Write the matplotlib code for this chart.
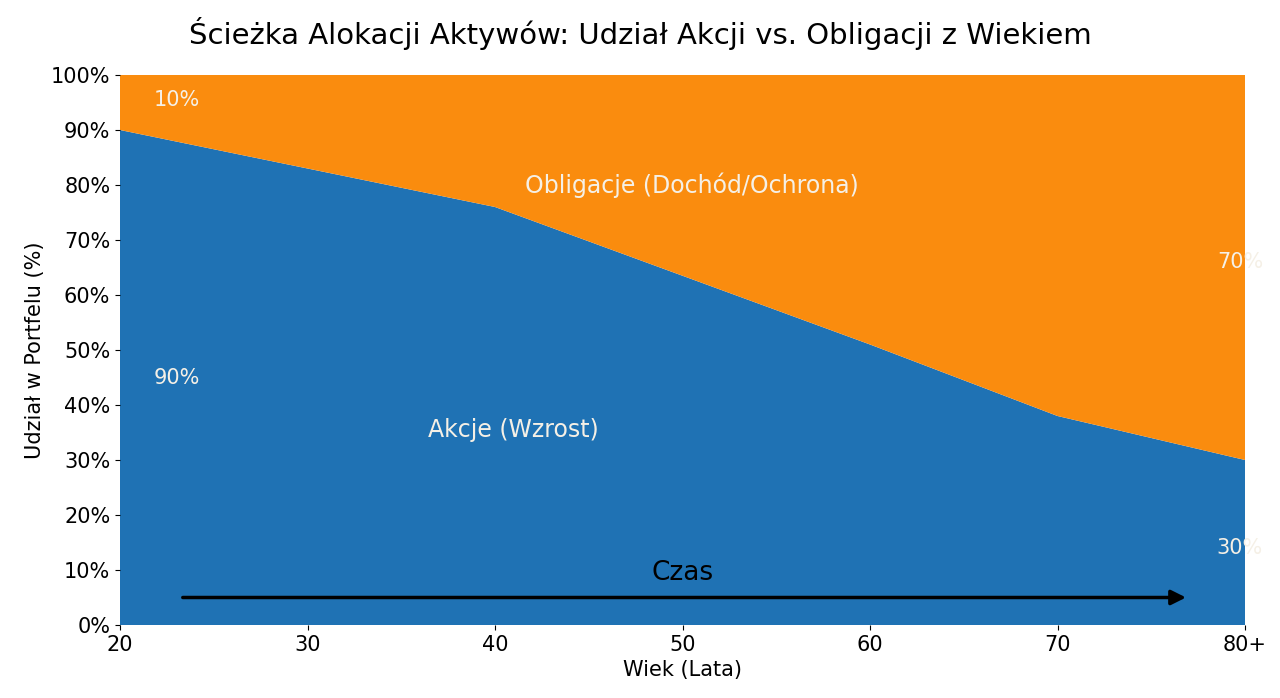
import matplotlib
matplotlib.use("Agg")
import matplotlib.pyplot as plt

ages = [20, 30, 40, 50, 60, 70, 80]
stocks = [90, 83, 76, 63.5, 51, 38, 30]
bonds = [100 - s for s in stocks]
xtick_labels = ["20", "30", "40", "50", "60", "70", "80+"]

blue = "#1f72b4"
orange = "#fa8c0e"

fig = plt.figure(figsize=(12.8, 6.98), dpi=100)
ax = fig.add_axes([120/1280, 1-625/698, 1125/1280, 550/698])
ax.stackplot(ages, stocks, bonds, colors=[blue, orange], linewidth=0)
ax.set_xlim(20, 80)
ax.set_ylim(0, 100)
ax.set_xticks(ages)
ax.set_xticklabels(xtick_labels, fontsize=15)
ax.set_yticks(range(0, 101, 10))
ax.set_yticklabels([f"{v}%" for v in range(0, 101, 10)], fontsize=15)
ax.set_xlabel("Wiek (Lata)", fontsize=15, labelpad=4)
ax.set_ylabel("Udział w Portfelu (%)", fontsize=15)
for s in ax.spines.values():
    s.set_visible(False)
fig.suptitle("Ścieżka Alokacji Aktywów: Udział Akcji vs. Obligacji z Wiekiem",
             fontsize=21, y=0.975)

tc = "#f5f0e6"
ax.text(21.8, 95.5, "10%", color=tc, fontsize=15, va="center")
ax.text(21.8, 45, "90%", color=tc, fontsize=15, va="center")
ax.text(78.5, 66, "70%", color=tc, fontsize=15, va="center")
ax.text(78.5, 14, "30%", color=tc, fontsize=15, va="center")
ax.text(50.5, 80, "Obligacje (Dochód/Ochrona)", color=tc, fontsize=17, ha="center", va="center")
ax.text(41, 35.5, "Akcje (Wzrost)", color=tc, fontsize=17, ha="center", va="center")
ax.annotate("", xy=(77, 5), xytext=(23.2, 5),
            arrowprops=dict(arrowstyle="-|>", color="black", lw=2.5, mutation_scale=22))
ax.text(50, 9.5, "Czas", fontsize=19, ha="center", va="center")

fig.savefig("out.png", dpi=100)
